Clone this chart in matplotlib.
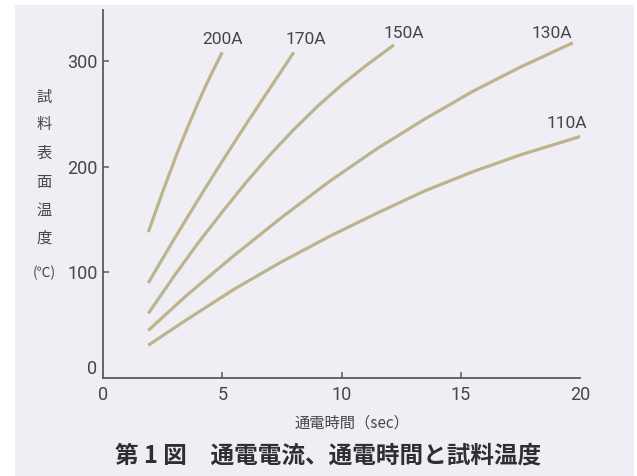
import matplotlib
matplotlib.use("Agg")
import matplotlib.pyplot as plt
from matplotlib.patches import Rectangle

# 通電時間 (sec) と試料表面温度 (℃)
t_200 = [1.9, 2.2, 2.5, 2.8, 3.1, 3.4, 3.7, 4.0, 4.3, 4.6, 5.0]
T_200 = [138, 157, 176, 194, 212, 229, 245, 261, 276, 290, 308]

t_170 = [1.9, 3.0, 4.0, 5.0, 6.0, 7.0, 8.0]
T_170 = [90, 132, 169, 205, 240, 274, 308]

t_150 = [1.9, 3.0, 4.0, 5.0, 6.0, 7.0, 8.0, 9.0, 10.0, 11.0, 12.2]
T_150 = [61, 97, 128, 157, 185, 211, 235, 257, 277, 295, 315]

t_130 = [1.9, 3.5, 5.5, 7.5, 9.5, 11.5, 13.5, 15.5, 17.5, 19.7]
T_130 = [45, 78, 116, 152, 186, 217, 245, 271, 294, 317]

t_110 = [1.9, 3.5, 5.5, 7.5, 9.5, 11.5, 13.5, 15.5, 17.5, 20.1]
T_110 = [31, 55, 84, 110, 134, 156, 177, 195, 211, 229]

series = [
    ("200A", t_200, T_200, (5.0, 320)),
    ("170A", t_170, T_170, (8.5, 320)),
    ("150A", t_150, T_150, (12.6, 326)),
    ("130A", t_130, T_130, (18.8, 326)),
    ("110A", t_110, T_110, (19.45, 241)),
]

x_ticks = [0, 5, 10, 15, 20]
y_ticks = [0, 100, 200, 300]

num_font = ["Roboto", "DejaVu Sans"]
jp_font = ["Noto Sans CJK JP", "DejaVu Sans"]
line_color = "#bdb48e"
axis_color = "#5a5a5e"
text_color = "#45454a"

W, H = 637, 476
fig = plt.figure(figsize=(W / 100, H / 100), dpi=100, facecolor="white")

# 薄いグレーの台紙
fig.patches.append(Rectangle((15 / W, 0), (634 - 15) / W, (H - 5) / H,
                             transform=fig.transFigure, facecolor="#eeeef4",
                             edgecolor="none", zorder=-10))

ax = fig.add_axes([103 / W, (H - 378) / H, (580 - 103) / W, (378 - 10) / H])
ax.set_facecolor("none")

for name, t, T, pos in series:
    ax.plot(t, T, color=line_color, lw=2.3, solid_capstyle="butt", solid_joinstyle="round")
    ax.text(pos[0], pos[1], name, ha="center", va="center", fontsize=12.5,
            family=num_font, color=text_color)

ax.set_xlim(0, 20)
ax.set_ylim(0, 348)
ax.set_xticks(x_ticks)
ax.set_yticks(y_ticks)
ax.set_xticklabels([str(v) for v in x_ticks], family=num_font, fontsize=13, color=text_color)
ax.set_yticklabels([str(v) for v in y_ticks], family=num_font, fontsize=13, color=text_color)
ax.tick_params(axis="x", direction="in", length=4, width=1.1, color=axis_color, pad=6)
ax.tick_params(axis="y", direction="in", length=4, width=1.1, color=axis_color, pad=4)

# 端の目盛り線は描かない
for tk in [ax.xaxis.get_major_ticks()[0], ax.xaxis.get_major_ticks()[-1], ax.yaxis.get_major_ticks()[0]]:
    tk.tick1line.set_visible(False)
ax.yaxis.get_major_ticks()[0].label1.set_verticalalignment("bottom")

for side in ["top", "right"]:
    ax.spines[side].set_visible(False)
for side in ["left", "bottom"]:
    ax.spines[side].set_color(axis_color)
    ax.spines[side].set_linewidth(1.3)

# 縦書きの軸ラベル
ylabel_chars = ["試", "料", "表", "面", "温", "度"]
ylabel_y = [97, 125, 153, 182, 210, 238]
for ch, py in zip(ylabel_chars, ylabel_y):
    fig.text(44 / W, 1 - py / H, ch, ha="center", va="center", fontsize=11,
             family=jp_font, color=text_color)
fig.text(44 / W, 1 - 273 / H, "(℃)", ha="center", va="center", fontsize=10,
         family=jp_font, color=text_color)

fig.text(352 / W, 1 - 423 / H, "通電時間（sec）", ha="center", va="center",
         fontsize=11, family=jp_font, color=text_color)

fig.text(328 / W, 1 - 455 / H, "第 1 図　通電電流、通電時間と試料温度", ha="center",
         va="center", fontsize=17, fontweight="bold", family=jp_font, color="#2e2e33")

fig.savefig("out.png", dpi=100, facecolor=fig.get_facecolor())
